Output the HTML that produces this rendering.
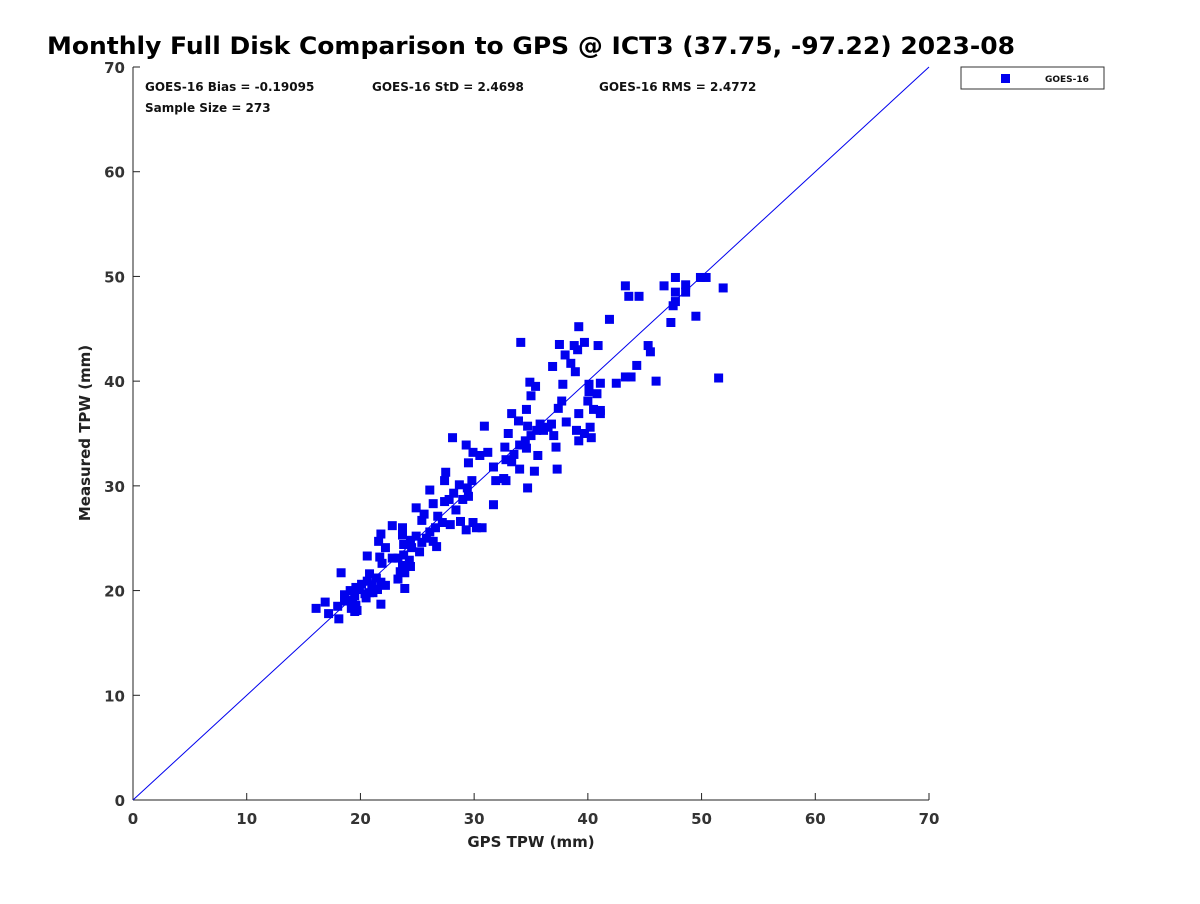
<!DOCTYPE html>
<html><head><meta charset="utf-8"><style>
body{margin:0;background:#fff;font-family:"DejaVu Sans","Liberation Sans",sans-serif}
</style></head><body>
<svg id="chart" width="1200" height="900" xmlns="http://www.w3.org/2000/svg" font-family="DejaVu Sans, Liberation Sans, sans-serif">
<rect width="1200" height="900" fill="#fff"/>
<text x="47" y="54" font-size="24" font-weight="bold" fill="#000" textLength="968" lengthAdjust="spacingAndGlyphs">Monthly Full Disk Comparison to GPS @ ICT3 (37.75, -97.22) 2023-08</text>
<g id="axes"></g>
<g id="marks"></g>
<g font-size="12" font-weight="bold" fill="#111">
<text x="145" y="91">GOES-16 Bias = -0.19095</text>
<text x="372" y="91">GOES-16 StD = 2.4698</text>
<text x="599" y="91">GOES-16 RMS = 2.4772</text>
<text x="145" y="112">Sample Size = 273</text>
</g>
<g>
<rect x="961" y="67" width="143" height="22" fill="#fff" stroke="#333" stroke-width="1"/>
<rect x="1001" y="74" width="9" height="9" fill="#0000ee"/>
<text x="1045" y="82" font-size="9" font-weight="bold" fill="#111">GOES-16</text>
</g>
<text x="531" y="847" font-size="15" font-weight="bold" fill="#222" text-anchor="middle">GPS TPW (mm)</text>
<text transform="translate(90,433) rotate(-90)" font-size="15" font-weight="bold" fill="#222" text-anchor="middle">Measured TPW (mm)</text>
</svg>
<script>
const ticks=[0,10,20,30,40,50,60,70];
const xs=[50.4,49.9,47.7,51.9,48.6,48.6,47.7,46.7,43.3,43.6,44.5,47.7,47.5,49.5,47.3,41.9,39.2,51.5,34.1,45.3,45.5,44.3,46.0,43.3,43.8,42.5,40.9,39.7,38.8,37.5,39.1,38.0,38.5,38.9,36.9,34.9,35.4,41.1,40.1,37.8,40.8,40.1,40.0,37.7,35.0,37.4,41.1,40.5,41.1,39.2,34.6,33.3,30.9,33.9,34.7,35.8,36.8,38.1,39.0,39.7,40.2,40.3,35.0,33.0,34.5,39.2,37.2,32.7,29.3,28.1,34.6,33.5,35.6,37.0,36.1,36.5,35.5,34.0,32.8,33.3,29.5,30.5,31.2,29.9,31.7,34.0,35.3,37.3,32.6,31.9,32.8,34.7,29.8,29.4,28.7,27.4,26.1,28.2,27.8,27.4,31.7,29.5,29.0,27.5,24.9,25.6,26.4,28.4,25.4,26.8,27.2,27.9,28.8,29.9,29.3,30.2,30.7,26.6,26.1,25.8,22.8,23.7,23.7,24.4,24.9,25.4,26.4,26.7,25.2,24.5,23.8,21.8,21.6,22.2,23.8,24.3,23.3,22.8,21.7,20.6,21.9,23.7,24.4,23.5,23.9,23.3,20.8,21.4,21.8,20.6,20.1,19.6,21.0,22.2,23.9,19.1,19.9,18.6,19.5,20.4,21.1,21.5,18.3,19.3,20.5,20.8,18.6,18.0,19.3,19.6,19.7,19.2,21.8,16.9,16.1,17.2,18.1,19.5];
const ys=[49.9,49.9,49.9,48.9,49.2,48.5,48.5,49.1,49.1,48.1,48.1,47.6,47.2,46.2,45.6,45.9,45.2,40.3,43.7,43.4,42.8,41.5,40.0,40.4,40.4,39.8,43.4,43.7,43.4,43.5,43.0,42.5,41.7,40.9,41.4,39.9,39.5,39.8,39.7,39.7,38.8,39.0,38.1,38.1,38.6,37.4,37.2,37.3,36.9,36.9,37.3,36.9,35.7,36.2,35.7,35.9,35.9,36.1,35.3,35.0,35.6,34.6,34.8,35.0,34.3,34.3,33.7,33.7,33.9,34.6,33.6,33.0,32.9,34.8,35.3,35.6,35.3,33.9,32.5,32.3,32.2,32.9,33.2,33.2,31.8,31.6,31.4,31.6,30.7,30.5,30.5,29.8,30.5,29.8,30.1,30.5,29.6,29.3,28.7,28.5,28.2,29.0,28.7,31.3,27.9,27.3,28.3,27.7,26.7,27.1,26.5,26.3,26.6,26.5,25.8,26.0,26.0,26.0,25.6,25.0,26.2,26.0,25.3,24.8,25.2,24.6,24.7,24.2,23.7,24.1,24.4,25.4,24.7,24.1,23.4,22.9,23.1,23.1,23.2,23.3,22.6,22.4,22.3,21.8,21.7,21.1,21.6,21.2,20.8,20.9,20.6,20.3,20.5,20.5,20.2,20.0,20.1,19.6,19.5,19.7,19.8,20.1,21.7,19.1,19.3,19.8,19.0,18.5,18.8,18.6,18.1,18.3,18.7,18.9,18.3,17.8,17.3,18.0];
const X0=133,X1=929,Y0=800,Y1=67,MAX=70;
const sx=v=>X0+(X1-X0)*v/MAX, sy=v=>Y0-(Y0-Y1)*v/MAX;
const NS="http://www.w3.org/2000/svg";
const axes=document.getElementById('axes'), marks=document.getElementById('marks');
function mk(tag,attrs,parent){const e=document.createElementNS(NS,tag);for(const k in attrs)e.setAttribute(k,attrs[k]);parent.appendChild(e);return e;}
const xl=mk('line',{x1:X0,y1:Y0,x2:X1,y2:Y0,stroke:'#222','stroke-width':1},axes);


const yl=mk('line',{x1:X0,y1:Y0,x2:X0,y2:Y1,stroke:'#222','stroke-width':1},axes);


ticks.forEach(t=>{
  mk('line',{x1:sx(t),y1:Y0,x2:sx(t),y2:Y0-7,stroke:'#222'},axes);
  mk('line',{x1:X0,y1:sy(t),x2:X0+7,y2:sy(t),stroke:'#222'},axes);
  const tx=mk('text',{x:sx(t),y:Y0+24,'font-size':15,'font-weight':'bold',fill:'#333','text-anchor':'middle'},axes);
  tx.textContent=t;
  
  
  const ty=mk('text',{x:X0-8,y:sy(t)+6,'font-size':15,'font-weight':'bold',fill:'#333','text-anchor':'end'},axes);
  ty.textContent=t;
  
  
});
const d=mk('line',{x1:sx(0),y1:sy(0),x2:sx(MAX),y2:sy(MAX),stroke:'#0000ee','stroke-width':1},marks);


xs.forEach((v,i)=>{
  const r=mk('rect',{x:sx(v)-4.5,y:sy(ys[i])-4.5,width:9,height:9,fill:'#0000ee'},marks);
  
  
});
</script>
</body></html>
